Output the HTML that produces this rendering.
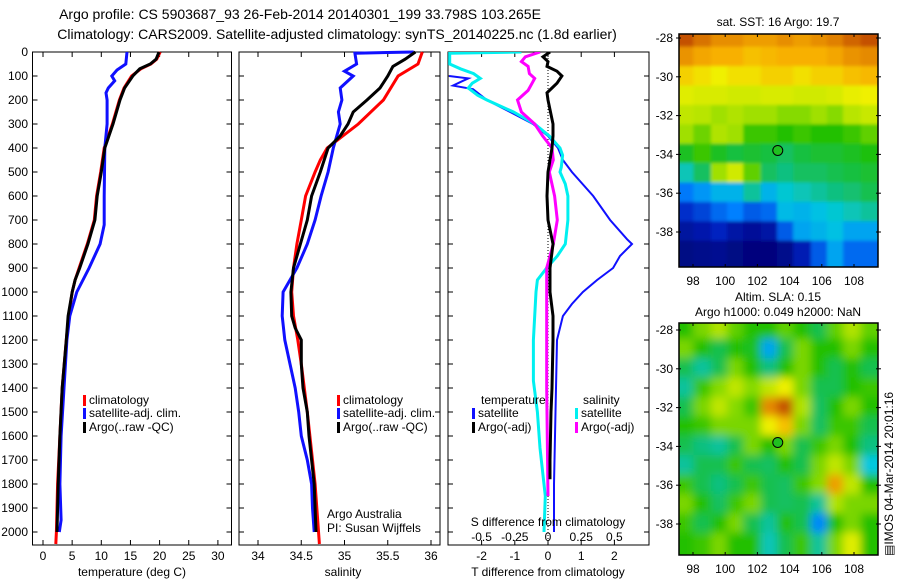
<!DOCTYPE html>
<html><head><meta charset="utf-8">
<style>
html,body{margin:0;padding:0;background:#fff;}
svg{display:block;font-family:"Liberation Sans",sans-serif;}
text{fill:#000;}
</style></head>
<body>
<svg id="fig" width="900" height="580" viewBox="0 0 900 580" xmlns="http://www.w3.org/2000/svg">
<defs>
<filter id="blurSST" x="0" y="0" width="1" height="1"><feGaussianBlur stdDeviation="1.5" edgeMode="duplicate"/></filter>
<filter id="blurSLA" x="0" y="0" width="1" height="1"><feGaussianBlur stdDeviation="4.5" edgeMode="duplicate"/></filter>
<clipPath id="clipM1"><rect x="679" y="34" width="199" height="233"/></clipPath>
<clipPath id="clipM2"><rect x="679" y="323" width="199" height="232"/></clipPath>
<clipPath id="clipP3"><rect x="448" y="52" width="201" height="493"/></clipPath>
</defs>
<text x="300" y="19" font-size="14" text-anchor="middle">Argo profile: CS 5903687_93 26-Feb-2014 20140301_199 33.798S 103.265E</text>
<text x="337" y="39" font-size="14" text-anchor="middle">Climatology: CARS2009. Satellite-adjusted climatology: synTS_20140225.nc (1.8d earlier)</text>
<g id="layer"></g>
</svg>
<script>
// ---------- Data ----------
const depthTicks = [0,100,200,300,400,500,600,700,800,900,1000,1100,1200,1300,1400,1500,1600,1700,1800,1900,2000];
const tempTicks = [0,5,10,15,20,25,30];
const salTicks = [34,34.5,35,35.5,36];
const salTickLabels = ["34","34.5","35","35.5","36"];
const dTTicks = [-2,-1,0,1,2];
const dSTicks = [-0.5,-0.25,0,0.25,0.5];
const dSTickLabels = ["-0.5","-0.25","0","0.25","0.5"];

const argoTDepth = [0,30,50,70,100,150,200,300,400,500,600,700,800,900,950,1000,1100,1200,1400,1600,1800,2000];
const argoTemp   = [19.9,19.4,18.4,16.6,15.4,14,13.2,12,10.6,10,9.3,8.9,7.7,6.3,5.5,5,4.3,4,3.3,2.9,2.6,2.4];
const climTDepth = [0,30,50,70,100,150,200,300,400,500,600,700,800,900,950,1000,1100,1200,1400,1600,1800,2000,2050];
const climTemp   = [20.1,19.5,18.5,16.8,15.2,13.9,13.1,11.9,10.5,9.9,9.2,8.8,7.6,6.2,5.5,5.0,4.4,4.0,3.3,2.9,2.5,2.3,2.2];
const satTDepth = [0,50,75,100,120,150,170,200,300,400,600,720,800,900,1000,1100,1200,1400,1600,1800,1950,2000];
const satTemp   = [14.4,14.2,12.7,11.8,12.3,11.2,10.8,11,11,10.6,10.5,10.5,9.8,7.9,5.8,4.6,4.1,3.6,3.1,2.9,3.1,2.8];

const argoSDepth = [0,30,60,100,150,200,250,300,350,400,500,600,700,800,900,1000,1100,1150,1200,1300,1400,1500,1600,1700,1800,2000];
const argoSal    = [35.82,35.7,35.56,35.5,35.41,35.26,35.1,35.04,34.95,34.81,34.72,34.62,34.57,34.49,34.41,34.38,34.39,34.43,34.5,34.5,34.52,34.57,34.59,34.62,34.65,34.67];
const climSDepth = [0,50,100,200,300,350,400,450,500,600,700,800,900,1000,1100,1200,1300,1500,1800,2050];
const climSal    = [35.9,35.85,35.62,35.45,35.16,34.98,34.8,34.72,34.66,34.55,34.5,34.45,34.41,34.39,34.41,34.46,34.5,34.57,34.66,34.71];
const satSDepth = [0,5,50,80,100,150,200,250,300,400,500,600,700,800,900,1000,1100,1200,1300,1400,1500,1600,1700,1800,1900,2000];
const satSal    = [35.8,35.12,35.14,35.0,35.1,34.95,34.97,34.93,34.95,34.87,34.81,34.73,34.66,34.57,34.45,34.29,34.28,34.31,34.37,34.43,34.47,34.5,34.57,34.62,34.63,34.65];

const dTsatDepth = [100,110,120,140,155,200,250,300,350,400,450,500,600,700,780,800,850,900,950,1000,1050,1100,1200,1400,1600,1800,2000];
const dTsat      = [-2.98,-2.4,-2.56,-2.86,-2.26,-1.84,-1.14,-0.45,0,0.3,0.45,0.72,1.36,1.87,2.38,2.53,2.17,1.96,1.48,1.05,0.72,0.45,0.27,0.24,0.21,0.18,0.18];
const dTargoDepth = [0,20,40,60,80,100,130,150,170,200,300,350,400,500,600,700,800,900,1000,1100,1200,1400,1500,1700,1780];
const dTargo      = [0.06,-0.15,0,-0.03,0.27,0.42,0.27,0.12,-0.03,0,0.15,0.15,0.12,0,-0.03,0,0.15,0.06,0.06,0.15,0.15,0.12,0.09,0.06,0.06];
const dSsatDepth = [0,5,50,70,90,110,130,150,180,200,250,300,350,400,430,480,500,550,600,700,800,850,900,950,1000,1200,1370,1500,1650,1850,2000];
const dSsat      = [-0.2,-0.74,-0.74,-0.66,-0.56,-0.51,-0.57,-0.6,-0.53,-0.46,-0.26,-0.1,0.01,0.09,0.11,0.1,0.09,0.13,0.15,0.15,0.13,0.07,-0.01,-0.08,-0.09,-0.11,-0.11,-0.08,-0.06,-0.02,-0.03];
const dSargoDepth = [0,20,40,60,90,110,130,160,200,250,300,350,400,450,500,600,700,800,900,1000,1400,1850];
const dSargo      = [-0.06,-0.17,-0.2,-0.15,-0.14,-0.1,-0.12,-0.15,-0.23,-0.2,-0.1,-0.04,0.03,0.04,0.01,0.05,0.07,0.04,-0.01,-0.01,-0.01,0.0];

const lonTicks = [98,100,102,104,106,108];
const latTicks = [-28,-30,-32,-34,-36,-38];
const gridLons = [97.6,98.6,99.7,100.7,101.7,102.8,103.8,104.8,105.9,106.9,107.9,109.0];
const gridLats = [-28,-29,-30,-31,-32,-33,-34,-35,-36,-37,-38,-39];
const sstGrid = [
[0.95,0.9,0.85,0.85,0.82,0.82,0.85,0.82,0.85,0.88,0.92,0.95],
[0.84,0.8,0.78,0.78,0.76,0.77,0.78,0.78,0.78,0.8,0.84,0.86],
[0.74,0.72,0.7,0.72,0.72,0.74,0.74,0.72,0.74,0.74,0.76,0.77],
[0.68,0.67,0.67,0.66,0.66,0.67,0.67,0.66,0.66,0.67,0.69,0.7],
[0.64,0.63,0.6,0.62,0.6,0.6,0.58,0.58,0.6,0.58,0.63,0.65],
[0.6,0.56,0.62,0.6,0.52,0.52,0.5,0.52,0.5,0.5,0.52,0.55],
[0.48,0.52,0.48,0.46,0.47,0.46,0.44,0.46,0.47,0.47,0.48,0.49],
[0.38,0.44,0.6,0.66,0.55,0.44,0.42,0.44,0.44,0.45,0.46,0.47],
[0.24,0.28,0.32,0.32,0.4,0.32,0.36,0.38,0.4,0.42,0.43,0.45],
[0.14,0.17,0.22,0.25,0.2,0.22,0.33,0.32,0.34,0.36,0.38,0.4],
[0.07,0.09,0.12,0.08,0.06,0.08,0.2,0.3,0.32,0.34,0.3,0.3],
[0.03,0.04,0.05,0.03,0.02,0.02,0.04,0.1,0.2,0.3,0.22,0.22]];
const slaGrid = [
[0.5,0.57,0.62,0.55,0.5,0.5,0.55,0.5,0.45,0.55,0.62,0.55],
[0.57,0.5,0.45,0.5,0.48,0.3,0.45,0.57,0.5,0.5,0.57,0.5],
[0.45,0.4,0.45,0.57,0.5,0.42,0.5,0.57,0.5,0.45,0.5,0.45],
[0.4,0.52,0.58,0.64,0.58,0.64,0.7,0.57,0.45,0.45,0.5,0.52],
[0.45,0.57,0.64,0.58,0.52,0.86,0.95,0.62,0.44,0.5,0.57,0.5],
[0.5,0.52,0.57,0.57,0.57,0.7,0.76,0.57,0.44,0.52,0.52,0.45],
[0.45,0.42,0.4,0.45,0.57,0.5,0.57,0.45,0.52,0.57,0.5,0.42],
[0.4,0.45,0.45,0.52,0.45,0.44,0.5,0.45,0.57,0.64,0.57,0.35],
[0.52,0.45,0.42,0.45,0.52,0.45,0.44,0.52,0.58,0.82,0.64,0.5],
[0.57,0.5,0.44,0.52,0.57,0.45,0.44,0.45,0.4,0.62,0.57,0.57],
[0.52,0.45,0.5,0.57,0.45,0.4,0.5,0.45,0.26,0.5,0.57,0.5],
[0.5,0.52,0.57,0.5,0.5,0.38,0.45,0.52,0.4,0.57,0.68,0.5]];
const argoLon = [103.265];
const argoLat = [-33.798];

// ---------- Helpers ----------
const NS = "http://www.w3.org/2000/svg";
const layer = document.getElementById('layer');
function mk(tag, attrs, parent){
  const e = document.createElementNS(NS, tag);
  for (const k in attrs) e.setAttribute(k, attrs[k]);
  (parent||layer).appendChild(e);
  return e;
}
const yD = d => 52 + d*0.24;
const xT = t => 43 + t*5.83;
const xS = s => 258 + (s-34)*86.5;
const xdT = t => 548 + t*33.2;
const xdS = s => 548 + s*132.8;

function panel(x0, x1, name){
  const r = mk('rect',{x:x0,y:52,width:x1-x0,height:493,fill:'none',stroke:'#000','stroke-width':1});
  
  
  depthTicks.forEach(d=>{
    const y = yD(d);
    mk('line',{x1:x0,x2:x0+5,y1:y,y2:y,stroke:'#000'});
    mk('line',{x1:x1-5,x2:x1,y1:y,y2:y,stroke:'#000'});
  });
}
function xticks(xs, fn, labels, y, name){
  xs.forEach((v,i)=>{
    const x = fn(v);
    mk('line',{x1:x,x2:x,y1:52,y2:57,stroke:'#000'});
    mk('line',{x1:x,x2:x,y1:540,y2:545,stroke:'#000'});
    const t = mk('text',{x:x,y:y,'font-size':12,'text-anchor':'middle'});
    t.textContent = labels[i];
    
    
  });
}
function line(xs, ds, fx, color, w, name, clip){
  const pts = xs.map((v,i)=>fx(v).toFixed(1)+','+yD(ds[i]).toFixed(1)).join(' ');
  const attrs = {points:pts,fill:'none',stroke:color,'stroke-width':w,'stroke-linejoin':'miter'};
  if (clip) attrs['clip-path'] = 'url(#'+clip+')';
  const p = mk('polyline', attrs);
  
  
}
function txt(x,y,s,size,name,anchor){
  const t = mk('text',{x:x,y:y,'font-size':size,'text-anchor':anchor||'start'});
  t.textContent = s;
  
  
  return t;
}
function legendItem(mx, y, color, label, name){
  const m = mk('rect',{x:mx,y:y-9,width:3,height:11,fill:color});
  
  
  txt(mx+6, y, label, 12, name);
}

depthTicks.forEach(d=>{
  txt(28, yD(d)+4, String(d), 12, 'depth-tick-label', 'end');
});

// ---------- Panel 1: temperature ----------
panel(32.5, 231.5, 'temperature-panel');
xticks(tempTicks, xT, tempTicks.map(String), 560, 'temperature-tick-label');
line(climTemp, climTDepth, xT, '#ff0000', 3, 'temp-climatology-line');
line(satTemp, satTDepth, xT, '#1010ff', 3, 'temp-satellite-line');
line(argoTemp, argoTDepth, xT, '#000000', 3, 'temp-argo-line');
txt(132, 576, 'temperature (deg C)', 12, 'temperature-axis-title', 'middle');
legendItem(83, 404, '#ff0000', 'climatology', 'legend-climatology');
legendItem(83, 417, '#1010ff', 'satellite-adj. clim.', 'legend-satellite-adj');
legendItem(83, 431, '#000000', 'Argo(..raw -QC)', 'legend-argo');

// ---------- Panel 2: salinity ----------
panel(239, 440, 'salinity-panel');
xticks(salTicks, xS, salTickLabels, 560, 'salinity-tick-label');
line(climSal, climSDepth, xS, '#ff0000', 3, 'sal-climatology-line');
line(satSal, satSDepth, xS, '#1010ff', 3, 'sal-satellite-line');
line(argoSal, argoSDepth, xS, '#000000', 3, 'sal-argo-line');
txt(343, 576, 'salinity', 12, 'salinity-axis-title', 'middle');
legendItem(337, 404, '#ff0000', 'climatology', 'legend-climatology-2');
legendItem(337, 417, '#1010ff', 'satellite-adj. clim.', 'legend-satellite-adj-2');
legendItem(337, 431, '#000000', 'Argo(..raw -QC)', 'legend-argo-2');
txt(327, 518, 'Argo Australia', 12, 'credit-argo-australia');
txt(327, 532, 'PI: Susan Wijffels', 12, 'credit-pi');

// ---------- Panel 3: differences ----------
panel(448, 649, 'difference-panel');
xticks(dTTicks, xdT, dTTicks.map(String), 560, 'dT-tick-label');
const zl = mk('line',{x1:548,x2:548,y1:52,y2:545,stroke:'#000','stroke-dasharray':'1,2'});


dSTicks.forEach((v,i)=>{ txt(xdS(v), 541, dSTickLabels[i], 12, 'dS-tick-label', 'middle'); });
line(dTsat, dTsatDepth, xdT, '#1010ff', 2, 'dT-satellite-line', 'clipP3');
line(dSsat, dSsatDepth, xdS, '#00f0f0', 3, 'dS-satellite-line', 'clipP3');
line(dSargo, dSargoDepth, xdS, '#ff00ff', 3, 'dS-argo-line', 'clipP3');
line(dTargo, dTargoDepth, xdT, '#000000', 3, 'dT-argo-line', 'clipP3');
txt(548, 526, 'S difference from climatology', 12, 'dS-axis-title', 'middle');
txt(548, 576, 'T difference from climatology', 12, 'dT-axis-title', 'middle');
txt(481, 404, 'temperature', 12, 'legend-temperature-heading');
legendItem(472, 417, '#1010ff', 'satellite', 'legend-t-satellite');
legendItem(472, 431, '#000000', 'Argo(-adj)', 'legend-t-argo');
txt(583, 404, 'salinity', 12, 'legend-salinity-heading');
legendItem(575, 417, '#00f0f0', 'satellite', 'legend-s-satellite');
legendItem(575, 431, '#ff00ff', 'Argo(-adj)', 'legend-s-argo');

// ---------- Maps ----------
const stops = [[0,[0,0,112]],[0.12,[0,32,192]],[0.25,[0,128,255]],[0.35,[0,200,224]],[0.42,[16,192,128]],[0.5,[32,192,0]],[0.6,[160,224,0]],[0.7,[240,240,0]],[0.78,[248,176,0]],[0.88,[224,128,0]],[1,[176,48,0]]];
function cmap(v){
  v = Math.max(0,Math.min(1,v));
  for (let i=1;i<stops.length;i++){
    if (v<=stops[i][0]){
      const a=stops[i-1], b=stops[i], f=(v-a[0])/(b[0]-a[0]);
      const c=a[1].map((x,k)=>Math.round(x+(b[1][k]-x)*f));
      return 'rgb('+c.join(',')+')';
    }
  }
  return 'rgb(176,48,0)';
}
function drawMap(grid, top, bottom, lat28y, clip, filt, name, tickLabY){
  const xL = lon => 693 + (lon-98)*16.1;
  const yL = lat => lat28y + (-28-lat)*19.4;
  const outer = mk('g',{'clip-path':'url(#'+clip+')'});
  
  
  const g = mk('g',{filter:'url(#'+filt+')'}, outer);
  const dLon = 1.04, dLat = 1.0;
  grid.forEach((row,r)=>{
    row.forEach((v,c)=>{
      const x0 = xL(gridLons[c]-dLon/2)-1, x1 = xL(gridLons[c]+dLon/2)+1;
      const y0 = yL(gridLats[r]+dLat/2)-1, y1 = yL(gridLats[r]-dLat/2)+1;
      const cell = mk('rect',{x:x0-(c===0?30:0),y:y0-(r===0?30:0),width:x1-x0+(c===0?30:0)+(c===row.length-1?30:0),height:y1-y0+(r===0?30:0)+(r===grid.length-1?30:0),fill:cmap(v)}, g);
      
      
    });
  });
  const fr = mk('rect',{x:679,y:top,width:199,height:bottom-top,fill:'none',stroke:'#000','stroke-width':1.5});
  
  
  lonTicks.forEach(l=>{
    const x = xL(l);
    mk('line',{x1:x,x2:x,y1:top,y2:top+3,stroke:'#000'});
    mk('line',{x1:x,x2:x,y1:bottom-3,y2:bottom,stroke:'#000'});
    txt(x, tickLabY, String(l), 12, name+'-lon-label', 'middle');
  });
  latTicks.forEach(l=>{
    const y = yL(l);
    mk('line',{x1:676,x2:681,y1:y,y2:y,stroke:'#000'});
    mk('line',{x1:876,x2:881,y1:y,y2:y,stroke:'#000'});
    txt(673, y+4, String(l), 12, name+'-lat-label', 'end');
  });
  argoLon.forEach((lo,i)=>{
    const c = mk('circle',{cx:xL(lo),cy:yL(argoLat[i]),r:5,fill:'#20c020',stroke:'#000','stroke-width':1});
    
    
  });
}
txt(778, 26, 'sat. SST: 16 Argo: 19.7', 12, 'sst-map-title', 'middle');
drawMap(sstGrid, 34, 267, 38, 'clipM1', 'blurSST', 'sst-map', 285);
txt(778, 301, 'Altim. SLA: 0.15', 12, 'sla-map-title', 'middle');
txt(778, 316, 'Argo h1000: 0.049 h2000: NaN', 12, 'sla-map-subtitle', 'middle');
drawMap(slaGrid, 323, 555, 330, 'clipM2', 'blurSLA', 'sla-map', 573);
const stamp = mk('text',{x:0,y:0,'font-size':12,transform:'translate(893,556) rotate(-90)'});
stamp.textContent = '\u25A4IMOS 04-Mar-2014 20:01:16';


</script>
</body></html>
